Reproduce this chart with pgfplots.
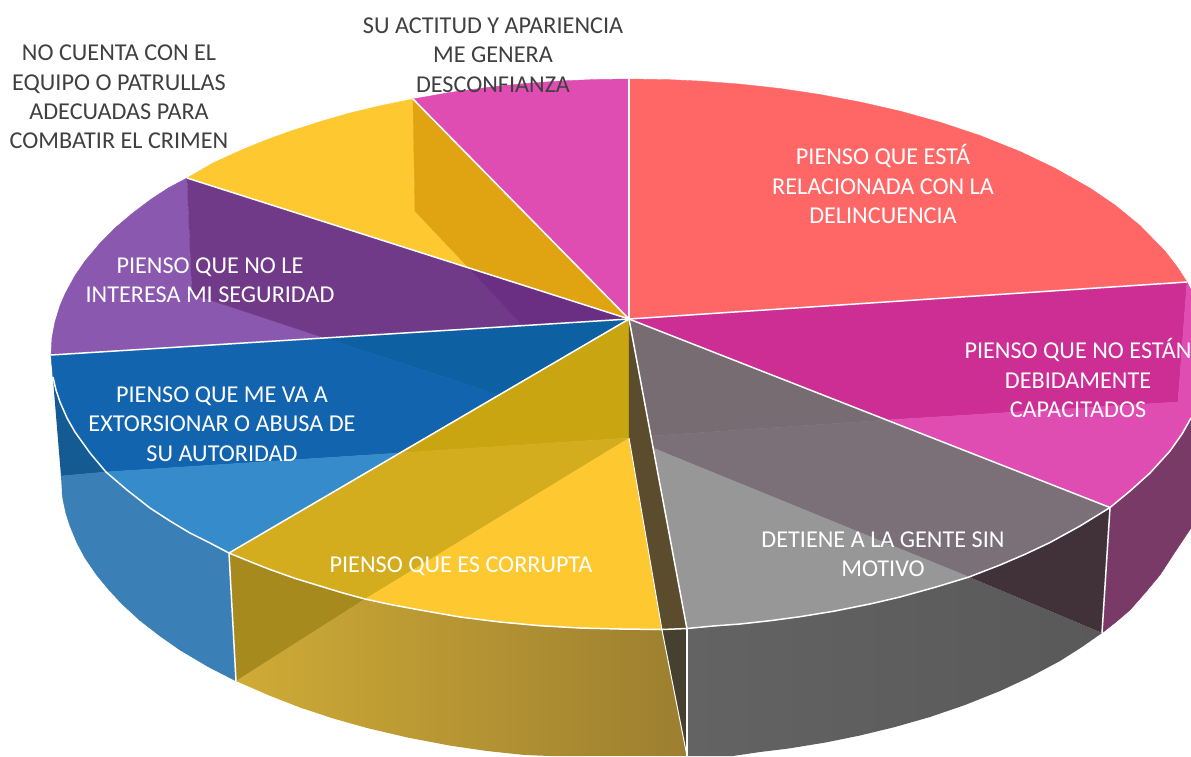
\documentclass[border=0pt]{standalone}
\usepackage{fontspec}
\setmainfont{Carlito}
\usepackage{pgfplots}
\pgfplotsset{compat=1.18}
% top faces
\definecolor{rojo}{HTML}{FF6767}
\definecolor{rosa}{HTML}{E04DB2}
\definecolor{magenta}{HTML}{CC2E94}
\definecolor{amarillo}{HTML}{FDC830}
\definecolor{naranja}{HTML}{E0A312}
\definecolor{moradoC}{HTML}{8A58AE}
\definecolor{moradoM}{HTML}{713A88}
\definecolor{moradoO}{HTML}{6A2E82}
\definecolor{azulO}{HTML}{0D60A2}
\definecolor{azulM}{HTML}{1264AE}
\definecolor{azulC}{HTML}{368CCB}
\definecolor{oroO}{HTML}{CAA512}
\definecolor{oroM}{HTML}{D4AD1F}
\definecolor{grisO}{HTML}{786C73}
\definecolor{grisM}{HTML}{7B7077}
\definecolor{grisC}{HTML}{979797}
\definecolor{cafe}{HTML}{5A4C2C}
% side faces
\definecolor{ladoAzulO}{HTML}{145A93}
\definecolor{ladoAzul}{HTML}{3A7FB5}
\definecolor{ladoOroO}{HTML}{A68A1E}
\definecolor{ladoOroI}{HTML}{CFAB36}
\definecolor{ladoOroD}{HTML}{9C7F30}
\definecolor{ladoCafe}{HTML}{454030}
\definecolor{ladoGrisI}{HTML}{636363}
\definecolor{ladoGrisD}{HTML}{595959}
\definecolor{ladoGrisO}{HTML}{403238}
\definecolor{ladoVino}{HTML}{7A3A68}
\definecolor{etiqueta}{HTML}{404040}
\tikzset{
 reg/.style={fill=#1,draw=#1,line width=0.4pt},
 raya/.style={draw=white,line width=1.5pt,line join=round},
 txt/.style={align=center,text=white,inner sep=0pt,font=\fontsize{24.2}{29.4}\selectfont},
 txtN/.style={align=center,text=etiqueta,inner sep=0pt,font=\fontsize{24.2}{29.4}\selectfont}}
\begin{document}
\begin{tikzpicture}
\begin{axis}[scale only axis,width=1191pt,height=756pt,ticks=none,axis line style={draw=none},
 xmin=0,xmax=1191,ymin=0,ymax=756,y dir=reverse]

% side: blue
\addplot[reg=ladoAzulO] coordinates {(51,355)(53,377)(56,390)(60,402)(67,418)(75,432)(90,453)(106,472)(61,476)};
\addplot[reg=ladoAzul] coordinates {(61,476)(106,472)(127,490)(150,508)(170,521)(190,533)(210,543)(229,553)(236,681)(208,666.6)(180,650)(160,636)(140,620.5)(122,604)(109,590)(97,575.5)(85,558)(77,543)(70,526)(66,513.6)(63,500)(62,492.8)};
% side: gold
\addplot[reg=ladoOroO] coordinates {(229,553)(250,561.6)(270,569.5)(295,578.4)(320,586)(342,592.7)(365,599)(236,681)};
\addplot[left color=ladoOroI,right color=ladoOroD,draw=none] coordinates {(365,599)(392,604.8)(420,610)(460,617)(500,622)(540,625.7)(580,628)(620,629)(662,629.5)(687,756)(550,756)(525,755)(487,751)(450,745.6)(408,737.6)(367,728)(333,718.4)(300,707.5)(268,695)(236,681)};
\addplot[reg=ladoCafe] coordinates {(662,630)(687,629)(687,756)};
% side: grey
\addplot[left color=ladoGrisI,right color=ladoGrisD,draw=none] coordinates {(687,628)(713,626)(740,624)(770,620.7)(800,616.7)(835,611)(870,604)(900,597)(935,587.3)(969,577)(1102,633)(1082,647)(1060,661)(1030,677)(1000,691)(965,705)(930,717)(895,727)(860,735.5)(825,742.6)(788,748.6)(760,752)(733,756)(687,756)};
\addplot[reg=ladoGrisO] coordinates {(969,577)(1000,565)(1025,554.3)(1050,542.5)(1080,526)(1110,507.5)(1102,633)};
% side: wine
\addplot[reg=ladoVino] coordinates {(1110,507.5)(1130,491)(1150,473)(1170,451)(1182,434)(1191,418)(1191,528)(1175,552)(1160,575)(1145,593)(1130,610)(1116,622)(1102,633)};

% red, pink
\addplot[reg=rojo] coordinates {(629,319)(629,79)(670,79.7)(700,81.1)(740,84.1)(780,88.5)(820,94.5)(860,102)(900,111.1)(940,122.2)(980,135.5)(1020,151.5)(1055,168.2)(1090,188.1)(1115,205.1)(1140,225.5)(1165,251.1)(1178,268)(1187,282)};
\addplot[reg=rosa] coordinates {(629,319)(413,99)(450,92.5)(490,87.1)(525,83.5)(560,81)(595,79.5)(629,79)};
% yellow
\addplot[reg=amarillo] coordinates {(187,178)(213,163)(240,150.6)(265,140.4)(290,131.3)(320,121.6)(350,113)(380,105.8)(413,99)(415,211)(469,268)};
\addplot[reg=naranja] coordinates {(413,99)(415,211)(469,268)(629,319)};
% purple
\addplot[reg=moradoC] coordinates {(187,178)(168,188.1)(150,200)(132,213.6)(115,228)(100,243.2)(85,261)(75,275.6)(65,294)(60,305.7)(55,322)(52,337.8)(51,355)(325,338)(192,294)};
\addplot[reg=moradoM] coordinates {(187,178)(192,294)(325,338)(523,326)(469,268)};
\addplot[reg=moradoO] coordinates {(469,268)(523,326)(629,319)};
% blue
\addplot[reg=azulO] coordinates {(629,319)(325,338)(499,395)};
\addplot[reg=azulM] coordinates {(51,355)(325,338)(499,395)(399,453)(106,472)(90,453)(75,432)(67,418)(60,402)(56,390)(53,377)};
\addplot[reg=azulC] coordinates {(106,472)(399,453)(229,553)(210,543)(190,533)(170,521)(150,508)(127,490)};
% gold
\addplot[reg=oroO] coordinates {(629,319)(399,453)(629,438)};
\addplot[reg=oroM] coordinates {(399,453)(629,438)(365,599)(342,592.7)(320,586)(295,578.4)(270,569.5)(250,561.6)(229,553)};
\addplot[reg=amarillo] coordinates {(629,438)(662,630)(620,629)(580,628)(540,625.7)(500,622)(460,617)(420,610)(392,604.8)(365,599)};
\addplot[reg=cafe] coordinates {(629,319)(629,438)(662,630)(687,629)};
% grey
\addplot[reg=grisO] coordinates {(629,319)(887,420)(651,436)};
\addplot[reg=grisM] coordinates {(651,436)(887,420)(1110,507.5)(1080,526)(1050,542.5)(1025,554.3)(1000,565)(969,577)(653,448)};
\addplot[reg=grisC] coordinates {(653,448)(969,577)(935,587.3)(900,597)(870,604)(835,611)(800,616.7)(770,620.7)(740,624)(713,626)(687,628)};
% magenta
\addplot[reg=magenta] coordinates {(629,319)(1187,282)(1178,402)(887,420)};
\addplot[reg=rosa] coordinates {(887,420)(1178,402)(1187,282)(1191,290)(1191,418)(1182,434)(1170,451)(1150,473)(1130,491)(1110,507.5)};

% white seams
\addplot[raya] coordinates {(629,79)(629,319)};
\addplot[raya] coordinates {(413,99)(629,319)};
\addplot[raya] coordinates {(187,178)(629,319)};
\addplot[raya] coordinates {(51,355)(629,319)};
\addplot[raya] coordinates {(229,553)(629,319)};
\addplot[raya] coordinates {(687,629)(629,319)};
\addplot[raya] coordinates {(1110,507.5)(629,319)};
\addplot[raya] coordinates {(1187,282)(629,319)};
\addplot[raya,line width=1pt] coordinates {(629,438)(662,630)};
\addplot[raya] coordinates {(53,377)(56,390)(60,402)(67,418)(75,432)(90,453)(106,472)(127,490)(150,508)(170,521)(190,533)(210,543)(229,553)(250,561.6)(270,569.5)(295,578.4)(320,586)(342,592.7)(365,599)(392,604.8)(420,610)(460,617)(500,622)(540,625.7)(580,628)(620,629)(662,629.5)(687,628.5)(713,626)(740,624)(770,620.7)(800,616.7)(835,611)(870,604)(900,597)(935,587.3)(969,577)(1000,565)(1025,554.3)(1050,542.5)(1080,526)(1110,507.5)(1130,491)(1150,473)(1170,451)(1182,434)(1191,418)};
\addplot[raya] coordinates {(229,553)(236,681)};
\addplot[raya] coordinates {(1110,507.5)(1102,633)};
\addplot[raya] coordinates {(687,629)(687,756)};
\addplot[raya,line width=1pt] coordinates {(662,630)(687,756)};

\node[txtN] at (axis cs:493,55) {SU ACTITUD Y APARIENCIA\\ME GENERA\\DESCONFIANZA};
\node[txtN] at (axis cs:119,97) {NO CUENTA CON EL\\EQUIPO O PATRULLAS\\ADECUADAS PARA\\COMBATIR EL CRIMEN};
\node[txt] at (axis cs:883,184) {PIENSO QUE ESTÁ\\RELACIONADA CON LA\\DELINCUENCIA};
\node[txt] at (axis cs:1078,378) {PIENSO QUE NO ESTÁN\\DEBIDAMENTE\\CAPACITADOS};
\node[txt] at (axis cs:883,554) {DETIENE A LA GENTE SIN\\MOTIVO};
\node[txt] at (axis cs:461,566) {PIENSO QUE ES CORRUPTA};
\node[txt] at (axis cs:222,424) {PIENSO QUE ME VA A\\EXTORSIONAR O ABUSA DE\\SU AUTORIDAD};
\node[txt] at (axis cs:210,280) {PIENSO QUE NO LE\\INTERESA MI SEGURIDAD};
\end{axis}
\end{tikzpicture}
\end{document}
